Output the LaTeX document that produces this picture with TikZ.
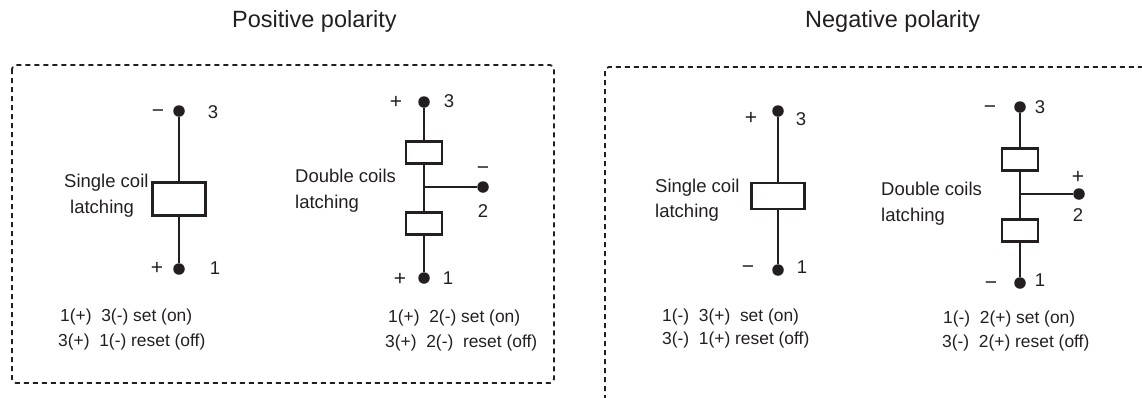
\documentclass[tikz,border=0pt]{standalone}
\usepackage{fontspec}
\setmainfont{Liberation Sans}
\definecolor{inkc}{RGB}{35,31,32}
\begin{document}
\begin{tikzpicture}[x=1pt,y=-1pt,
  wire/.style={draw=inkc,line width=2.1pt},
  frame/.style={draw=inkc,line width=1.8pt,dash pattern=on 5pt off 4pt,rounded corners=4pt},
  coilbox/.style={draw=inkc,line width=2.1pt,inner sep=0pt,minimum width=36pt,minimum height=22pt},
  bigcoil/.style={draw=inkc,line width=2.1pt,inner sep=0pt,minimum width=53pt,minimum height=#1},
  terminal/.style={circle,fill=inkc,inner sep=0pt,minimum size=11.5pt},
  lbl/.style={text=inkc,inner sep=0pt,font=\fontsize{18.5}{22}\selectfont},
  sgn/.style={text=inkc,inner sep=0pt,text height=13pt,text depth=0pt,font=\fontsize{21}{24}\selectfont},
  num/.style={text=inkc,inner sep=0pt,text height=13pt,text depth=0pt,font=\fontsize{18.5}{22}\selectfont},
  state/.style={text=inkc,inner sep=0pt,anchor=west,font=\fontsize{17.4}{21}\selectfont},
  title/.style={text=inkc,inner sep=0pt,anchor=west,font=\fontsize{23.5}{28}\selectfont}
]
\useasboundingbox (0,0) rectangle (1142,397);
% titles
\node[title] (tpos) at (232,21) {Positive polarity};
\node[title] (tneg) at (805,21) {Negative polarity};
% frames
\draw[frame] (12,65) rectangle (554,383);
\draw[frame] (605,400) -- (605,67) -- (1145,67);

% ---- Positive, single coil
\node[terminal] (pa3) at (179,111) {};
\node[terminal] (pa1) at (179,269) {};
\node[bigcoil=33pt] (pac) at (179,199) {};
\draw[wire] (pa3) -- (pac);
\draw[wire] (pac) -- (pa1);
\node[sgn] (pa3s) at (158,111) {−};
\node[num] (pa3n) at (213,112) {3};
\node[sgn] (pa1s) at (157,268) {+};
\node[num] (pa1n) at (215,268) {1};
\node[lbl,anchor=west] (pal1) at (64,183) {Single coil};
\node[lbl,anchor=west] (pal2) at (70,209) {latching};
\node[state] (pat1) at (60,317) {1(+)\ \ 3(-) set (on)};
\node[state] (pat2) at (58,342) {3(+)\ \ 1(-) reset (off)};

% ---- Positive, double coils
\node[terminal] (pb3) at (424,102) {};
\node[terminal] (pb1) at (424,278) {};
\node[terminal] (pb2) at (483,187) {};
\coordinate (pbj) at (424,187);
\node[coilbox] (pbu) at (424,152.5) {};
\node[coilbox] (pbl) at (424,223.5) {};
\draw[wire] (pb3) -- (pbu);
\draw[wire] (pbu) -- (pbj) -- (pbl);
\draw[wire] (pbl) -- (pb1);
\draw[wire] (pbj) -- (pb2);
\node[sgn] (pb3s) at (396,102) {+};
\node[num] (pb3n) at (449,101) {3};
\node[sgn] (pb1s) at (400,279) {+};
\node[num] (pb1n) at (448,278) {1};
\node[sgn] (pb2s) at (483,168) {−};
\node[num] (pb2n) at (483,211) {2};
\node[lbl,anchor=west] (pbl1) at (295,176) {Double coils};
\node[lbl,anchor=west] (pbl2) at (295,204) {latching};
\node[state] (pbt1) at (388,318) {1(+)\ \ 2(-) set (on)};
\node[state] (pbt2) at (385,343) {3(+)\ \ 2(-)\ \ reset (off)};

% ---- Negative, single coil
\node[terminal] (na3) at (778,111) {};
\node[terminal] (na1) at (778,270) {};
\node[bigcoil=26pt] (nac) at (778,196) {};
\draw[wire] (na3) -- (nac);
\draw[wire] (nac) -- (na1);
\node[sgn] (na3s) at (751,118) {+};
\node[num] (na3n) at (801,119) {3};
\node[sgn] (na1s) at (748,267) {−};
\node[num] (na1n) at (802,267) {1};
\node[lbl,anchor=west] (nal1) at (655,188) {Single coil};
\node[lbl,anchor=west] (nal2) at (655,213) {latching};
\node[state] (nat1) at (662,317) {1(-)\ \ 3(+)\ \ set (on)};
\node[state] (nat2) at (662,340) {3(-)\ \ 1(+) reset (off)};

% ---- Negative, double coils
\node[terminal] (nb3) at (1020,107) {};
\node[terminal] (nb1) at (1020,283) {};
\node[terminal] (nb2) at (1079,194) {};
\coordinate (nbj) at (1020,194);
\node[coilbox] (nbu) at (1020,159.5) {};
\node[coilbox] (nbl) at (1020,230.5) {};
\draw[wire] (nb3) -- (nbu);
\draw[wire] (nbu) -- (nbj) -- (nbl);
\draw[wire] (nbl) -- (nb1);
\draw[wire] (nbj) -- (nb2);
\node[sgn] (nb3s) at (990,107) {−};
\node[num] (nb3n) at (1040,107) {3};
\node[sgn] (nb1s) at (991,283) {−};
\node[num] (nb1n) at (1040,280) {1};
\node[sgn] (nb2s) at (1078,177) {+};
\node[num] (nb2n) at (1078,215) {2};
\node[lbl,anchor=west] (nbl1) at (881,189) {Double coils};
\node[lbl,anchor=west] (nbl2) at (881,217) {latching};
\node[state] (nbt1) at (943,319) {1(-)\ \ 2(+) set (on)};
\node[state] (nbt2) at (942,343) {3(-)\ \ 2(+) reset (off)};
\end{tikzpicture}
\end{document}
